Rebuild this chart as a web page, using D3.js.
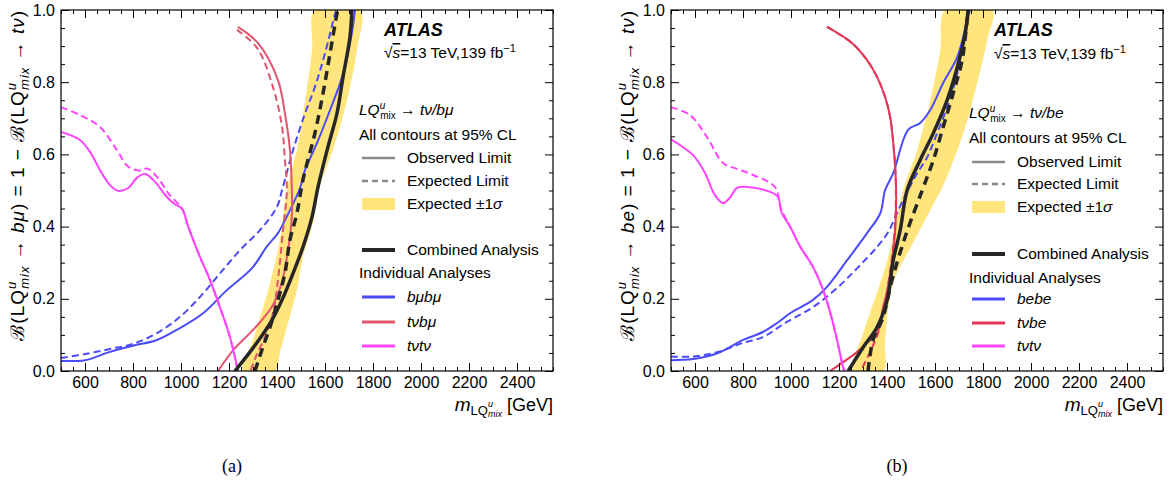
<!DOCTYPE html>
<html>
<head>
<meta charset="utf-8">
<script src="https://cdn.jsdelivr.net/npm/d3@7"></script>
<style>
    body { margin: 0; background: #fff; }
    svg { font-family: "Liberation Sans", Arial, sans-serif; }
</style>
</head>
<body>
<svg id="chart" width="1172" height="485"></svg>
<script>
// ---- axis ticks ----
const xMajor = [600, 800, 1000, 1200, 1400, 1600, 1800, 2000, 2200, 2400];
const yMajor = [0, 0.2, 0.4, 0.6, 0.8, 1.0];

// ---- panel (a): LQ -> tv / b mu, [mass GeV, B] ----
const tvtvObsA = [[500,0.662],[579,0.64],[621,0.607],[662,0.557],[704,0.515],[738,0.499],[780,0.507],[816,0.535],[850,0.546],[892,0.524],[941,0.482],[975,0.462],[1004,0.45],[1030,0.40],[1079,0.316],[1121,0.252],[1162,0.177],[1204,0.094],[1237,0]];
const tvtvExpA = [[500,0.731],[579,0.709],[662,0.676],[733,0.612],[780,0.566],[829,0.555],[858,0.561],[900,0.538],[950,0.49],[1004,0.45],[1030,0.40],[1079,0.316],[1121,0.252],[1162,0.177],[1204,0.094],[1237,0]];
const bmuObsA = [[500,0.028],[600,0.030],[704,0.053],[800,0.07],[900,0.086],[996,0.119],[1092,0.16],[1191,0.224],[1296,0.285],[1358,0.345],[1404,0.382],[1441,0.428],[1496,0.507],[1517,0.557],[1567,0.632],[1621,0.723],[1671,0.814],[1712,0.936],[1725,1.0]];
const bmuExpA = [[500,0.036],[600,0.047],[704,0.061],[800,0.075],[900,0.105],[996,0.15],[1079,0.205],[1162,0.27],[1246,0.335],[1329,0.39],[1400,0.455],[1421,0.501],[1467,0.612],[1517,0.714],[1558,0.787],[1600,0.88],[1642,0.99],[1647,1.0]];
const tvbmuObsA = [[1237,0.953],[1321,0.908],[1404,0.806],[1433,0.714],[1454,0.612],[1462,0.501],[1462,0.43],[1445,0.33],[1418,0.24],[1378,0.177],[1329,0.135],[1280,0.1],[1220,0.06],[1154,0]];
const tvbmuExpA = [[1233,0.945],[1317,0.895],[1383,0.787],[1421,0.676],[1433,0.584],[1441,0.501],[1425,0.39],[1404,0.252],[1383,0.16],[1350,0.094],[1315,0.045],[1290,0]];
const combObsA = [[1225,0],[1316,0.078],[1379,0.141],[1421,0.197],[1467,0.271],[1508,0.343],[1546,0.427],[1571,0.51],[1612,0.62],[1650,0.714],[1675,0.814],[1704,0.925],[1712,1.0]];
const combExpA = [[1308,0],[1337,0.058],[1371,0.122],[1404,0.197],[1433,0.271],[1454,0.363],[1483,0.437],[1508,0.529],[1558,0.659],[1592,0.77],[1621,0.88],[1650,0.99],[1654,1.0]];
const bandLowA = [[1258,0],[1300,0.086],[1371,0.244],[1412,0.363],[1440,0.5],[1483,0.612],[1517,0.75],[1546,0.889],[1558,1.0]];
const bandHighA = [[1746,1.0],[1733,0.889],[1692,0.75],[1633,0.612],[1575,0.505],[1550,0.41],[1508,0.316],[1483,0.224],[1446,0.133],[1412,0.05],[1392,0]];

// ---- panel (b): LQ -> tv / b e ----
const tvtvObsB = [[500,0.642],[592,0.598],[642,0.548],[683,0.487],[717,0.465],[745,0.48],[775,0.507],[817,0.51],[913,0.496],[946,0.482],[960,0.44],[996,0.4],[1038,0.345],[1092,0.288],[1134,0.224],[1175,0.133],[1217,0.011],[1222,0]];
const tvtvExpB = [[500,0.731],[579,0.709],[650,0.648],[717,0.576],[775,0.56],[842,0.543],[933,0.51],[958,0.45],[996,0.4],[1038,0.345],[1092,0.288],[1134,0.224],[1175,0.133],[1217,0.011],[1222,0]];
const beObsB = [[500,0.03],[592,0.033],[696,0.05],[800,0.086],[883,0.108],[942,0.133],[996,0.16],[1092,0.197],[1150,0.233],[1234,0.307],[1317,0.382],[1372,0.437],[1392,0.501],[1426,0.548],[1488,0.668],[1538,0.687],[1580,0.723],[1634,0.798],[1693,0.87],[1734,0.972],[1745,1.0]];
const beExpB = [[500,0.04],[592,0.04],[696,0.053],[800,0.078],[883,0.094],[983,0.136],[1092,0.177],[1192,0.23],[1276,0.285],[1359,0.344],[1405,0.385],[1450,0.45],[1488,0.501],[1526,0.548],[1568,0.593],[1609,0.659],[1651,0.731],[1693,0.825],[1726,0.945],[1738,1.0]];
const tvbeObsB = [[1150,0.953],[1255,0.908],[1317,0.861],[1359,0.814],[1392,0.759],[1413,0.704],[1426,0.632],[1434,0.565],[1438,0.501],[1435,0.4],[1420,0.3],[1400,0.22],[1384,0.177],[1359,0.105],[1320,0.08],[1276,0.053],[1163,0]];
const tvbeExpB = [[1150,0.953],[1255,0.908],[1317,0.861],[1359,0.814],[1392,0.759],[1413,0.704],[1426,0.632],[1434,0.565],[1437,0.501],[1433,0.4],[1418,0.3],[1395,0.2],[1370,0.12],[1335,0.06],[1290,0]];
const combObsB = [[1238,0],[1301,0.066],[1359,0.122],[1401,0.197],[1426,0.307],[1455,0.39],[1484,0.501],[1538,0.584],[1593,0.659],[1651,0.751],[1693,0.842],[1726,0.936],[1738,1.0]];
const combExpB = [[1321,0],[1342,0.086],[1384,0.15],[1420,0.25],[1480,0.38],[1547,0.501],[1593,0.584],[1634,0.676],[1676,0.77],[1713,0.861],[1734,0.972],[1740,1.0]];
const bandLowB = [[1259,0],[1301,0.105],[1372,0.244],[1413,0.335],[1467,0.501],[1526,0.612],[1580,0.75],[1622,0.889],[1643,1.0]];
const bandHighB = [[1839,1.0],[1818,0.917],[1776,0.798],[1718,0.659],[1645,0.53],[1600,0.47],[1509,0.355],[1426,0.244],[1392,0.086],[1384,0]];

const legendNamesA = ["bμbμ", "tνbμ", "tνtν"];
const legendNamesB = ["bebe", "tνbe", "tνtν"];

const BLUE = "#4b4bf7", RED_A = "#e0566f", RED_B = "#e23658", MAGENTA = "#ff44ff", BLACK = "#262626", BAND = "#ffe57c";

const svg = d3.select("#chart");

// append text made of styled pieces (sub/superscripts via dy/dx)
function rich(sel, segs, size) {
    segs.forEach(s => {
        sel.append("tspan")
            .attr("font-size", s.sz || size)
            .attr("font-style", s.it ? "italic" : null)
            .attr("dx", s.dx || null)
            .attr("dy", s.dy || null)
            .attr("text-decoration", s.ov ? "overline" : null)
            .text(s.t);
    });
    return sel;
}

function drawPanel(p) {
    const x = d3.scaleLinear().domain([500, 2550]).range([p.x0, p.x0 + 492]);
    const y = d3.scaleLinear().domain([0, 1]).range([371, 10]);
    const g = svg.append("g");

    const clipId = "clip" + p.x0;
    svg.append("clipPath").attr("id", clipId)
        .append("rect").attr("x", p.x0).attr("y", 10).attr("width", 492).attr("height", 361);

    const line = d3.line().x(d => x(d[0])).y(d => y(d[1])).curve(d3.curveCatmullRom.alpha(0.5));
    const plot = g.append("g").attr("clip-path", `url(#${clipId})`);

    // expected +-1 sigma band
    plot.append("path")
        .datum(p.bandLow.concat(p.bandHigh))
        .attr("d", d3.line().x(d => x(d[0])).y(d => y(d[1])).curve(d3.curveCatmullRomClosed.alpha(0.5)))
        .attr("fill", BAND);

    p.series.forEach(s => {
        plot.append("path").datum(s.data)
            .attr("d", line)
            .attr("fill", "none")
            .attr("stroke", s.color)
            .attr("stroke-width", s.w)
            .attr("stroke-dasharray", s.dash || null);
    });

    // axes, ticks pointing inward on all four sides
    const minorX = d3.range(500, 2551, 50).filter(v => v % 200 !== 0);
    const minorY = d3.range(0, 1.001, 0.05).filter((v, i) => i % 4 !== 0);
    const axes = [
        [d3.axisBottom(x).tickValues(xMajor).tickSize(-8).tickPadding(6).tickFormat(d3.format("d")), `translate(0,371)`],
        [d3.axisBottom(x).tickValues(minorX).tickSize(-4).tickFormat(""), `translate(0,371)`],
        [d3.axisTop(x).tickValues(xMajor).tickSize(-8).tickFormat(""), `translate(0,10)`],
        [d3.axisTop(x).tickValues(minorX).tickSize(-4).tickFormat(""), `translate(0,10)`],
        [d3.axisLeft(y).tickValues(yMajor).tickSize(-8).tickPadding(6).tickFormat(d3.format(".1f")), `translate(${p.x0},0)`],
        [d3.axisLeft(y).tickValues(minorY).tickSize(-4).tickFormat(""), `translate(${p.x0},0)`],
        [d3.axisRight(y).tickValues(yMajor).tickSize(-8).tickFormat(""), `translate(${p.x0 + 492},0)`],
        [d3.axisRight(y).tickValues(minorY).tickSize(-4).tickFormat(""), `translate(${p.x0 + 492},0)`]
    ];
    axes.forEach(([ax, tr]) => {
        const a = g.append("g").attr("transform", tr).call(ax);
        a.select(".domain").remove();
        a.selectAll("line").attr("stroke", "#000").attr("stroke-width", 1);
        a.selectAll("text").attr("font-size", 16).attr("fill", "#000")
            .attr("font-family", "Liberation Sans, Arial, sans-serif");
    });
    g.append("rect").attr("x", p.x0).attr("y", 10).attr("width", 492).attr("height", 361)
        .attr("fill", "none").attr("stroke", "#000").attr("stroke-width", 1.2);

    // axis titles
    rich(g.append("text").attr("text-anchor", "end").attr("x", p.x0 + 492).attr("y", 411), [
        {t: "m", sz: 19, it: true},
        {t: "LQ", sz: 13, dy: 4},
        {t: "u", sz: 9, it: true, dy: -8},
        {t: "mix", sz: 9, it: true, dx: -5, dy: 10},
        {t: " [GeV]", sz: 18, dy: -6}
    ], 18);

    rich(g.append("text").attr("text-anchor", "end").attr("letter-spacing", 1)
        .attr("transform", `translate(${p.x0 - 37},10) rotate(-90)`), [
        {t: "ℬ(LQ"},
        {t: "u", sz: 13, it: true, dy: -8},
        {t: "mix", sz: 13, it: true, dx: -8, dy: 13},
        {t: " → ", dy: -5},
        {t: p.chan, it: true},
        {t: ") = 1 − ℬ(LQ"},
        {t: "u", sz: 13, it: true, dy: -8},
        {t: "mix", sz: 13, it: true, dx: -8, dy: 13},
        {t: " → ", dy: -5},
        {t: "tν", it: true},
        {t: ")"}
    ], 19);

    // ATLAS label
    const lx = p.x0 + 323;
    g.append("text").attr("x", lx).attr("y", 36).attr("font-size", 18)
        .attr("font-weight", "bold").attr("font-style", "italic").text("ATLAS");
    rich(g.append("text").attr("x", lx).attr("y", 58 + p.dy), [
        {t: "√"},
        {t: "s", it: true, ov: true},
        {t: "=13 TeV,139 fb"},
        {t: "−1", sz: 11, dy: -6}
    ], 15.5);

    // legend
    const tx = p.x0 + 298, sx0 = p.x0 + 301, sx1 = p.x0 + 334, lab = p.x0 + 346;
    const rows = p.rows;
    rich(g.append("text").attr("x", tx).attr("y", rows[0] + 5), [
        {t: "LQ", it: true},
        {t: "u", sz: 10, it: true, dy: -6},
        {t: "mix", sz: 10, dx: -5, dy: 10},
        {t: " → ", dy: -4},
        {t: p.title, it: true}
    ], 15.5);
    g.append("text").attr("x", tx).attr("y", rows[1] + 5).attr("font-size", 15.5).text("All contours at 95% CL");

    const keys = [
        {type: "line", color: "#888", w: 2.5, label: [{t: "Observed Limit"}]},
        {type: "line", color: "#888", w: 2.5, dash: "6,4", label: [{t: "Expected Limit"}]},
        {type: "band", label: [{t: "Expected ±1"}, {t: "σ", it: true}]},
        {type: "line", color: BLACK, w: 4, label: [{t: "Combined Analysis"}]},
        {type: "text", label: [{t: "Individual Analyses"}]},
        {type: "line", color: BLUE, w: 3, label: [{t: p.names[0], it: true}]},
        {type: "line", color: p.red, w: 3, label: [{t: p.names[1], it: true}]},
        {type: "line", color: MAGENTA, w: 3, label: [{t: p.names[2], it: true}]}
    ];
    keys.forEach((k, i) => {
        const cy = rows[i + 2];
        if (k.type === "line") {
            g.append("line").attr("x1", sx0).attr("x2", sx1).attr("y1", cy).attr("y2", cy)
                .attr("stroke", k.color).attr("stroke-width", k.w).attr("stroke-dasharray", k.dash || null);
        } else if (k.type === "band") {
            g.append("rect").attr("x", sx0).attr("y", cy - 6).attr("width", sx1 - sx0).attr("height", 12).attr("fill", BAND);
        }
        rich(g.append("text").attr("x", k.type === "text" ? tx : lab).attr("y", cy + 5), k.label, 15.5);
    });

    svg.append("text").attr("x", p.cap).attr("y", 472).attr("text-anchor", "middle")
        .attr("font-family", "Liberation Serif, serif").attr("font-size", 18).text(p.tag);
}

drawPanel({
    x0: 61, tag: "(a)", cap: 232, chan: "bμ", title: "tν/bμ", names: legendNamesA, red: RED_A, dy: 0,
    rows: [110, 135, 158, 181, 204, 250, 273, 297, 322, 346],
    bandLow: bandLowA, bandHigh: bandHighA,
    series: [
        {data: bmuExpA, color: BLUE, w: 2, dash: "7,4"},
        {data: bmuObsA, color: BLUE, w: 2},
        {data: tvbmuExpA, color: RED_A, w: 2, dash: "7,4"},
        {data: tvbmuObsA, color: RED_A, w: 2},
        {data: tvtvExpA, color: MAGENTA, w: 2, dash: "7,4"},
        {data: tvtvObsA, color: MAGENTA, w: 2},
        {data: combExpA, color: BLACK, w: 3.5, dash: "9,6"},
        {data: combObsA, color: BLACK, w: 3.5}
    ]
});

drawPanel({
    x0: 671, tag: "(b)", cap: 897, chan: "be", title: "tν/be", names: legendNamesB, red: RED_B, dy: 1,
    rows: [113, 138, 162, 184, 207, 254, 278, 299, 323, 346],
    bandLow: bandLowB, bandHigh: bandHighB,
    series: [
        {data: beExpB, color: BLUE, w: 2, dash: "7,4"},
        {data: beObsB, color: BLUE, w: 2},
        {data: tvbeExpB, color: RED_B, w: 2, dash: "7,4"},
        {data: tvbeObsB, color: RED_B, w: 2},
        {data: tvtvExpB, color: MAGENTA, w: 2, dash: "7,4"},
        {data: tvtvObsB, color: MAGENTA, w: 2},
        {data: combExpB, color: BLACK, w: 3.5, dash: "9,6"},
        {data: combObsB, color: BLACK, w: 3.5}
    ]
});
</script>
</body>
</html>
